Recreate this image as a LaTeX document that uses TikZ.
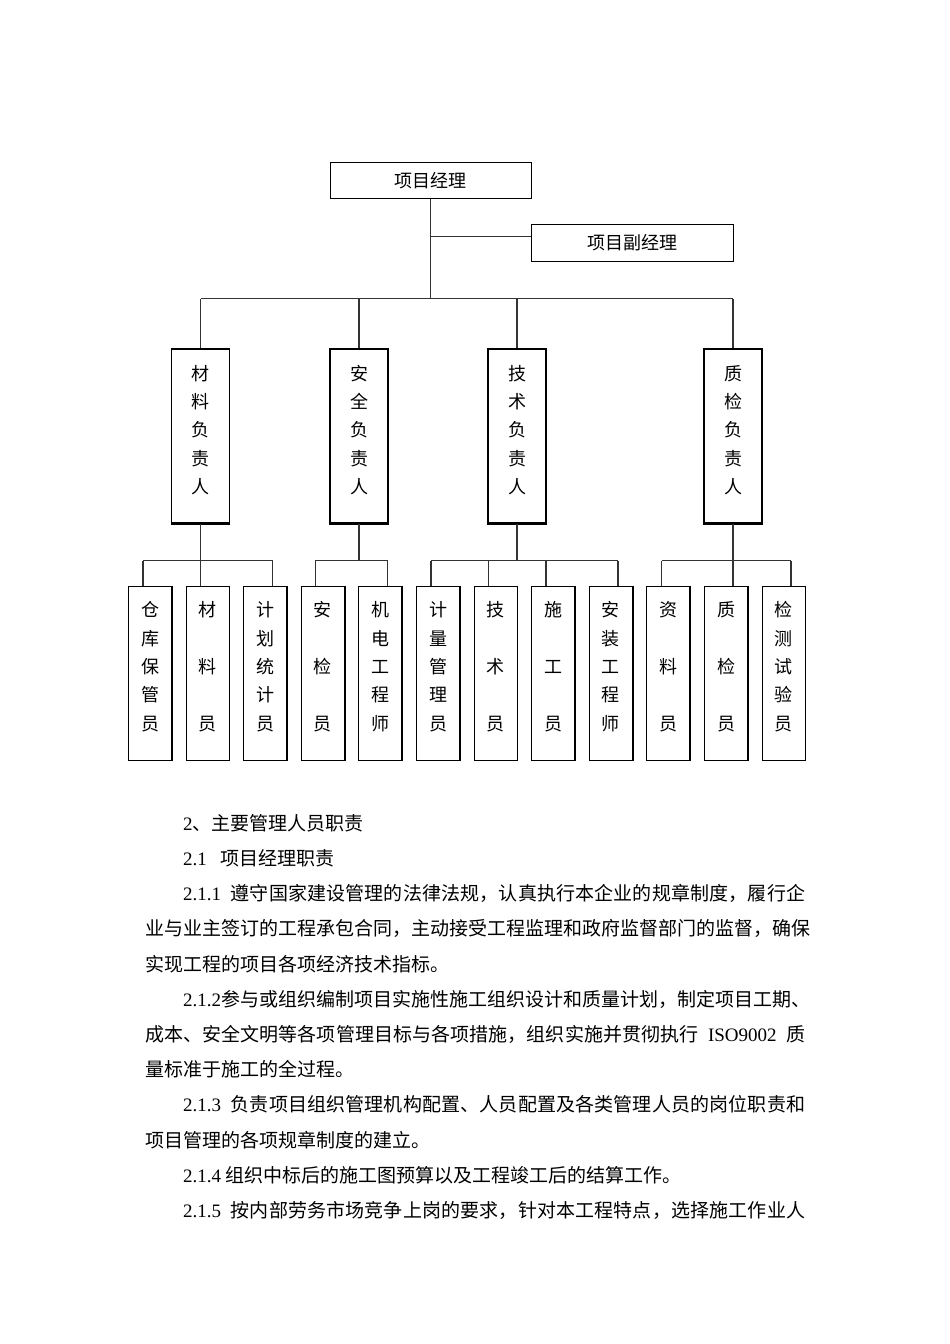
\documentclass[tikz,border=0pt]{standalone}
\usepackage{fontspec}
\setmainfont{Noto Sans CJK SC}
\newfontfamily\lat{Liberation Serif}
\newcommand\LT[1]{{\lat #1}}
\newXeTeXintercharclass\cjkcls
\newcount\mycnt
\mycnt="3000
\loop\XeTeXcharclass\mycnt=\cjkcls\advance\mycnt by 1 \ifnum\mycnt<"3040 \repeat
\mycnt="4E00
\loop\XeTeXcharclass\mycnt=\cjkcls\advance\mycnt by 1 \ifnum\mycnt<"A000 \repeat
\mycnt="FF00
\loop\XeTeXcharclass\mycnt=\cjkcls\advance\mycnt by 1 \ifnum\mycnt<"FFF0 \repeat
\XeTeXinterchartoks\cjkcls\cjkcls={\hskip0pt plus 1fil\relax}
\XeTeXinterchartokenstate=1
\tikzset{
  topbox/.style={draw=black, line width=0.9pt, inner sep=0pt, font=\fontsize{18}{18}\selectfont},
  vbox/.style={draw=black, line width=1.5pt, minimum width=58pt, minimum height=174pt, inner sep=0pt},
  lbox/.style={draw=black, line width=0.9pt, minimum width=43pt, minimum height=174pt, inner sep=0pt},
  vtext/.style={align=center, inner sep=0pt, font=\fontsize{18}{28.3}\selectfont},
  conn/.style={draw=black!80, line width=1.5pt},
  body/.style={anchor=base west, inner sep=0pt, font=\fontsize{19}{19}\selectfont}
}
\begin{document}
\begin{tikzpicture}[x=1pt,y=-1pt]
\useasboundingbox[fill=white] (0,0) rectangle (950,1344);
% top
\node[topbox, minimum width=201pt, minimum height=36.5pt] (pm) at (430.5,180.3) {项目经理};
\node[topbox, minimum width=202pt, minimum height=37pt] (dep) at (632,242.8) {项目副经理};
% second level
\foreach \n/\x/\t in {L1/200.7/{材\\料\\负\\责\\人}, L2/359/{安\\全\\负\\责\\人}, L3/517/{技\\术\\负\\责\\人}, L4/733.2/{质\\检\\负\\责\\人}}{
  \node[vbox] (\n) at (\x,436) {};
  \node[vtext] (\n t) at (\x,430) {\t};
  \draw[line width=3pt] (\n.south west) -- (\n.south east);
}
% third level
\foreach \n/\x/\t in {
  b1/150/{仓\\库\\保\\管\\员},
  b2/207.6/{材\\[28.3pt]料\\[28.3pt]员},
  b3/265.2/{计\\划\\统\\计\\员},
  b4/322.8/{安\\[28.3pt]检\\[28.3pt]员},
  b5/380.4/{机\\电\\工\\程\\师},
  b6/438/{计\\量\\管\\理\\员},
  b7/495.6/{技\\[28.3pt]术\\[28.3pt]员},
  b8/553.2/{施\\[28.3pt]工\\[28.3pt]员},
  b9/610.8/{安\\装\\工\\程\\师},
  b10/668.4/{资\\[28.3pt]料\\[28.3pt]员},
  b11/726/{质\\[28.3pt]检\\[28.3pt]员},
  b12/783.6/{检\\测\\试\\验\\员}}{
  \node[lbox] (\n) at (\x,673) {};
  \node[vtext] (\n t) at (\x,666.7) {\t};
  \draw[line width=1.8pt] (\n.north east) -- (\n.south east) -- (\n.south west);
}
% connectors
\coordinate (j) at (430.5,236.7);
\coordinate (busL) at (200.7,298.5);
\coordinate (busR) at (733.2,298.5);
\draw[conn] (pm.south) -- (pm.south |- busL);
\draw[conn] (j) -- (j -| dep.west);
\draw[conn] (busL) -- (busR);
\foreach \n in {L1,L2,L3,L4} \draw[conn] (\n.north) -- (\n.north |- busL);
\foreach \i/\x in {1/143,2/200.6,3/272.5,4/315.3,5/387.6,6/431,7/488.6,8/545.8,9/618,10/661.6,11/733.1,12/791}
  \coordinate (d\i) at (\x,560.7);
\draw[conn] (d1) -- (d3);
\draw[conn] (d4) -- (d5);
\draw[conn] (d6) -- (d9);
\draw[conn] (d10) -- (d12);
\foreach \n in {L1,L2,L3,L4} \draw[conn] (\n.south) -- (\n.south |- d1);
\foreach \i in {1,...,12} \draw[conn] (d\i) -- (d\i |- b\i.north);
% body text
\node[body] (t0) at (183,830.2) {\LT{2}、主要管理人员职责};
\node[body] (t1) at (183,865.4) {\LT{2.1}\hspace{0.7em}项目经理职责};
\node[body] (t2) at (183,900.6) {\hbox to 622pt{\LT{2.1.1}\hspace{0.5em}遵守国家建设管理的法律法规，认真执行本企业的规章制度，履行企}};
\node[body] (t3) at (145,935.8) {\hbox to 658pt{业与业主签订的工程承包合同，主动接受工程监理和政府监督部门的监督，确保}};
\node[body] (t4) at (145,971) {实现工程的项目各项经济技术指标。};
\node[body] (t5) at (183,1006.2) {\hbox to 627pt{\LT{2.1.2}参与或组织编制项目实施性施工组织设计和质量计划，制定项目工期、}};
\node[body] (t6) at (145,1041.4) {\hbox to 660pt{成本、安全文明等各项管理目标与各项措施，组织实施并贯彻执行\hspace{0.5em}\LT{ISO9002}\hspace{0.5em}质}};
\node[body] (t7) at (145,1076.6) {量标准于施工的全过程。};
\node[body] (t8) at (183,1111.8) {\hbox to 622pt{\LT{2.1.3}\hspace{0.5em}负责项目组织管理机构配置、人员配置及各类管理人员的岗位职责和}};
\node[body] (t9) at (145,1147) {项目管理的各项规章制度的建立。};
\node[body] (t10) at (183,1182.2) {\LT{2.1.4}\hspace{0.25em}组织中标后的施工图预算以及工程竣工后的结算工作。};
\node[body] (t11) at (183,1217.4) {\hbox to 622pt{\LT{2.1.5}\hspace{0.5em}按内部劳务市场竞争上岗的要求，针对本工程特点，选择施工作业人}};
\end{tikzpicture}
\end{document}
